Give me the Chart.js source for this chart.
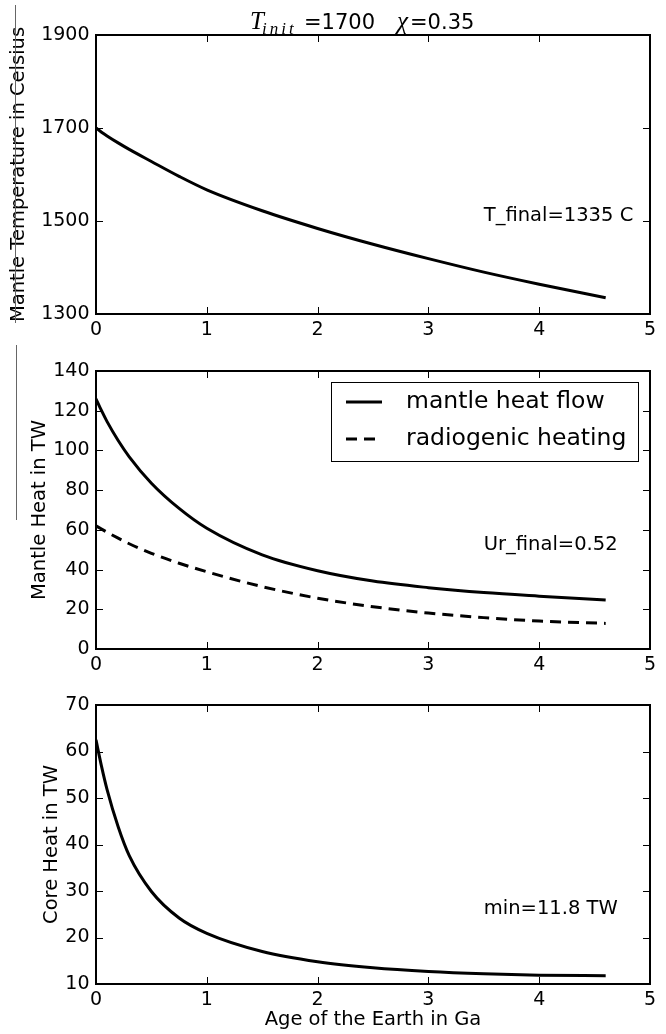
<!DOCTYPE html>
<html>
<head>
<meta charset="utf-8">
<script src="https://cdn.jsdelivr.net/npm/chart.js@4.4.1/dist/chart.umd.min.js"></script>
<style>
  html, body { margin: 0; padding: 0; background: #fff; }
  #wrap { position: relative; width: 666px; height: 1034px; overflow: hidden; }
  canvas { position: absolute; left: 0; }
</style>
</head>
<body>
<div id="wrap">
  <canvas id="temp" width="666" height="340" style="top:0"></canvas>
  <canvas id="heat" width="666" height="340" style="top:340px"></canvas>
  <canvas id="core" width="666" height="354" style="top:680px"></canvas>
</div>
<script>
// ages in Ga
const ages = [0, 0.05, 0.1, 0.2, 0.3, 0.5, 0.75, 1, 1.5, 2, 2.5, 3, 3.5, 4, 4.6];
const mantleTemp = [1700, 1691, 1683, 1668, 1654, 1628, 1596, 1567, 1522, 1484, 1450, 1419, 1390, 1364, 1335];
const mantleHeatFlow = [126, 120, 114.5, 105, 96.8, 83.5, 70.8, 60.8, 47.4, 39.4, 34.2, 30.9, 28.4, 26.6, 24.7];
const radiogenicHeating = [62, 60.4, 58.8, 55.8, 53.0, 48.2, 43.2, 38.9, 31.4, 25.6, 21.3, 18.1, 15.8, 14.1, 12.9];
const coreHeat = [62.5, 56.8, 51.8, 43.8, 37.6, 29.9, 24.2, 20.9, 17.0, 14.8, 13.5, 12.7, 12.2, 11.9, 11.8];

const ageTicks = [0, 1, 2, 3, 4, 5];
const tempTicks = [1300, 1500, 1700, 1900];
const heatTicks = [0, 20, 40, 60, 80, 100, 120, 140];
const coreTicks = [10, 20, 30, 40, 50, 60, 70];

const FONT = 'DejaVu Sans';

function pts(values) {
    return ages.map((a, i) => ({ x: a, y: values[i] }));
}

function line(label, values, dash) {
    return {
        label: label,
        data: pts(values),
        borderColor: '#000',
        borderWidth: 3,
        borderDash: dash || [],
        pointRadius: 0,
        cubicInterpolationMode: 'monotone',
        fill: false,
    };
}

function axes(yTicks, yTitle, yTitlePad, xHeight, xTitle) {
    return {
        x: {
            type: 'linear',
            min: ageTicks[0],
            max: ageTicks[ageTicks.length - 1],
            afterBuildTicks: s => { s.ticks = ageTicks.map(v => ({ value: v })); },
            afterFit: s => { s.height = xHeight; },
            grid: { display: false, drawTicks: false },
            border: { display: false },
            ticks: {
                color: '#000', padding: 4.5, maxRotation: 0, autoSkip: false,
                font: { family: FONT, size: 19 },
                callback: v => String(v),
            },
            title: xTitle
                ? { display: true, text: xTitle, color: '#000', font: { family: FONT, size: 19.5 }, padding: { top: 0, bottom: 2.5 } }
                : { display: false },
        },
        y: {
            type: 'linear',
            min: yTicks[0],
            max: yTicks[yTicks.length - 1],
            afterBuildTicks: s => { s.ticks = yTicks.map(v => ({ value: v })); },
            afterFit: s => { s.width = 96; },
            grid: { display: false, drawTicks: false },
            border: { display: false },
            ticks: {
                color: '#000', padding: 6.5, autoSkip: false,
                font: { family: FONT, size: 19 },
                callback: v => String(v),
            },
            title: { display: true, text: yTitle, color: '#000', font: { family: FONT, size: 19.5 }, padding: { top: yTitlePad, bottom: 0 } },
        },
    };
}

// matplotlib-style box with inward ticks on all four sides
const frame = {
    id: 'frame',
    afterDatasetsDraw(chart) {
        const { ctx, chartArea: a, scales: { x, y } } = chart;
        const len = 7;
        ctx.save();
        ctx.strokeStyle = '#000';
        ctx.lineWidth = 1;
        ctx.beginPath();
        x.ticks.forEach(t => {
            const p = Math.round(x.getPixelForValue(t.value)) + 0.5;
            ctx.moveTo(p, a.bottom); ctx.lineTo(p, a.bottom - len);
            ctx.moveTo(p, a.top); ctx.lineTo(p, a.top + len);
        });
        y.ticks.forEach(t => {
            const p = Math.round(y.getPixelForValue(t.value)) + 0.5;
            ctx.moveTo(a.left, p); ctx.lineTo(a.left + len, p);
            ctx.moveTo(a.right, p); ctx.lineTo(a.right - len, p);
        });
        ctx.stroke();
        ctx.lineWidth = 2;
        ctx.strokeRect(a.left, a.top, a.right - a.left, a.bottom - a.top);
        ctx.restore();
    }
};

function note(x, y, text) {
    return {
        id: 'note',
        afterDatasetsDraw(chart) {
            const { ctx, scales } = chart;
            ctx.save();
            ctx.fillStyle = '#000';
            ctx.font = '19.5px "' + FONT + '"';
            ctx.textBaseline = 'alphabetic';
            ctx.fillText(text, scales.x.getPixelForValue(x), scales.y.getPixelForValue(y));
            ctx.restore();
        }
    };
}

// stray grey strokes along the left margin of the original figure
function strayLine(x, y0, y1) {
    return {
        id: 'strayLine',
        afterDraw(chart) {
            const ctx = chart.ctx;
            ctx.save();
            ctx.strokeStyle = '#666';
            ctx.lineWidth = 1;
            ctx.beginPath();
            ctx.moveTo(x, y0);
            ctx.lineTo(x, y1);
            ctx.stroke();
            ctx.restore();
        }
    };
}

const figureTitle = {
    id: 'figureTitle',
    afterDraw(chart) {
        const { ctx, chartArea: a } = chart;
        // dx: offset from the left end of the title
        const parts = [
            { t: 'T', font: 'italic 25px "Liberation Serif"', dx: 0, dy: 0, sp: '0px' },
            { t: 'init', font: 'italic 17px "Liberation Serif"', dx: 12, dy: 5, sp: '3px' },
            { t: '=1700', font: '21px "' + FONT + '"', dx: 54, dy: 0, sp: '0px' },
            { t: '\u03c7', font: 'italic 25px "Liberation Serif"', dx: 147, dy: 0, sp: '0px' },
            { t: '=0.35', font: '21px "' + FONT + '"', dx: 160, dy: 0, sp: '0px' },
        ];
        const left = (a.left + a.right) / 2 - 123;
        const base = 28.5;
        ctx.save();
        ctx.fillStyle = '#000';
        ctx.textBaseline = 'alphabetic';
        parts.forEach(p => {
            ctx.font = p.font;
            ctx.letterSpacing = p.sp;
            ctx.fillText(p.t, left + p.dx, base + p.dy);
        });
        ctx.restore();
    }
};

const heatLegend = {
    id: 'heatLegend',
    afterDatasetsDraw(chart) {
        const { ctx, chartArea: a } = chart;
        const box = { left: a.right - 319, top: a.top + 11, right: a.right - 12, bottom: a.top + 90 };
        ctx.save();
        ctx.fillStyle = '#fff';
        ctx.fillRect(box.left, box.top, box.right - box.left, box.bottom - box.top);
        ctx.strokeStyle = '#000';
        ctx.lineWidth = 1;
        ctx.strokeRect(box.left + 0.5, box.top + 0.5, box.right - box.left, box.bottom - box.top);
        chart.data.datasets.forEach((ds, i) => {
            const cy = a.top + 31 + i * 37;
            ctx.beginPath();
            ctx.setLineDash(ds.borderDash || []);
            ctx.lineWidth = ds.borderWidth;
            ctx.strokeStyle = ds.borderColor;
            ctx.moveTo(a.right - 304, cy);
            ctx.lineTo(a.right - 268, cy);
            ctx.stroke();
            ctx.setLineDash([]);
            ctx.fillStyle = '#000';
            ctx.font = '23.5px "' + FONT + '"';
            ctx.textBaseline = 'middle';
            ctx.fillText(ds.label, a.right - 244, cy);
        });
        ctx.restore();
    }
};

const base = {
    responsive: false,
    animation: false,
    devicePixelRatio: 1,
    events: [],
    plugins: { legend: { display: false }, tooltip: { enabled: false } },
};

new Chart(document.getElementById('temp'), {
    type: 'line',
    data: { datasets: [line('mantle temperature', mantleTemp)] },
    options: Object.assign({}, base, {
        layout: { padding: { top: 35, right: 16, bottom: 0, left: 0 } },
        scales: axes(tempTicks, 'Mantle Temperature in Celsius', 7.5, 26),
    }),
    plugins: [frame, note(3.5, 1500, 'T_final=1335 C'), figureTitle, strayLine(15.5, 5, 323)],
});

new Chart(document.getElementById('heat'), {
    type: 'line',
    data: {
        datasets: [
            line('mantle heat flow', mantleHeatFlow),
            line('radiogenic heating', radiogenicHeating, [11, 7]),
        ]
    },
    options: Object.assign({}, base, {
        layout: { padding: { top: 31, right: 16, bottom: 0, left: 0 } },
        scales: axes(heatTicks, 'Mantle Heat in TW', 28.5, 31),
    }),
    plugins: [frame, note(3.5, 50, 'Ur_final=0.52'), heatLegend, strayLine(16.5, 5, 180)],
});

new Chart(document.getElementById('core'), {
    type: 'line',
    data: { datasets: [line('core heat', coreHeat)] },
    options: Object.assign({}, base, {
        layout: { padding: { top: 25, right: 16, bottom: 0, left: 0 } },
        scales: axes(coreTicks, 'Core Heat in TW', 40, 50, 'Age of the Earth in Ga'),
    }),
    plugins: [frame, note(3.5, 25, 'min=11.8 TW')],
});
</script>
</body>
</html>
